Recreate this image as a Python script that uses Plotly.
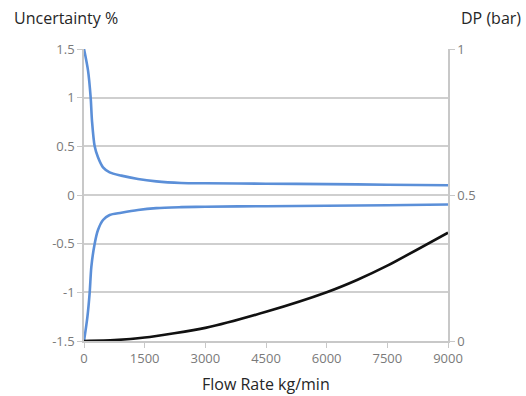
import plotly.graph_objects as go

# Upper uncertainty band (%)
flow_upper = [0, 99, 165, 198, 264, 346, 470, 634, 922, 1335, 1788, 2400, 3000, 4500, 6000, 7500, 9000]
unc_upper = [1.5, 1.28, 1.0, 0.76, 0.5, 0.387, 0.284, 0.233, 0.199, 0.164, 0.14, 0.124, 0.12, 0.116, 0.112, 0.106, 0.1]

# Lower uncertainty band (%)
flow_lower = [0, 82, 141, 181, 264, 346, 470, 634, 922, 1335, 1788, 2400, 3000, 4500, 6000, 7500, 9000]
unc_lower = [-1.5, -1.26, -1.0, -0.74, -0.5, -0.36, -0.257, -0.205, -0.182, -0.154, -0.135, -0.125, -0.12, -0.115, -0.11, -0.105, -0.098]

# Differential pressure (bar)
flow_dp = [0, 750, 1500, 3000, 4500, 6000, 6750, 7500, 9000]
dp_bar = [0, 0.003, 0.012, 0.045, 0.1, 0.167, 0.209, 0.258, 0.371]

left_ticks = [1.5, 1, 0.5, 0, -0.5, -1, -1.5]
left_ticktext = ["1.5", "1", "0.5", "0", "-0.5", "-1", "-1.5"]
right_ticks = [0, 0.5, 1]
right_ticktext = ["0", "0.5", "1"]
x_ticks = [0, 1500, 3000, 4500, 6000, 7500, 9000]
x_ticktext = ["0", "1500", "3000", "4500", "6000", "7500", "9000"]

BLUE = "#5b8fd8"
FONT = "Open Sans"

fig = go.Figure()
fig.add_trace(go.Scatter(x=flow_upper, y=unc_upper, mode="lines",
                         line=dict(color=BLUE, width=2.6, shape="spline", smoothing=0.8),
                         showlegend=False))
fig.add_trace(go.Scatter(x=flow_lower, y=unc_lower, mode="lines",
                         line=dict(color=BLUE, width=2.6, shape="spline", smoothing=0.8),
                         showlegend=False))
fig.add_trace(go.Scatter(x=flow_dp, y=dp_bar, mode="lines", yaxis="y2",
                         line=dict(color="#111111", width=2.6, shape="spline", smoothing=0.6),
                         showlegend=False))

axis_font = dict(family=FONT, size=13, color="#7a7a7a")
fig.update_layout(
    width=526, height=396,
    margin=dict(l=84, r=78, t=49, b=55),
    paper_bgcolor="white", plot_bgcolor="white",
    font=dict(family=FONT),
    xaxis=dict(range=[0, 9000], tickvals=x_ticks, ticktext=x_ticktext,
               showgrid=False, zeroline=False, showline=True, linecolor="#c8c8c8", linewidth=1.5,
               ticks="outside", ticklen=5, tickcolor="#c8c8c8", tickfont=axis_font),
    yaxis=dict(range=[-1.5, 1.5], tickvals=left_ticks, ticktext=left_ticktext,
               showgrid=True, gridcolor="#cfcfcf", gridwidth=1.5, zeroline=False,
               showline=True, linecolor="#c8c8c8", linewidth=1.5,
               ticks="outside", ticklen=5, tickcolor="#c8c8c8", tickfont=axis_font),
    yaxis2=dict(range=[0, 1], tickvals=right_ticks, ticktext=right_ticktext,
                overlaying="y", side="right", showgrid=False, zeroline=False,
                showline=True, linecolor="#c8c8c8", linewidth=1.5,
                ticks="outside", ticklen=5, tickcolor="#c8c8c8", tickfont=axis_font),
)

# axis titles placed at pixel positions, converted to paper coordinates
pw, ph = 526 - 84 - 78, 396 - 49 - 55
titles = [("Uncertainty %", 12, 18, "left"), ("DP (bar)", 459, 18, "left"),
          ("Flow Rate kg/min", 266, 384, "center")]
fig.layout.annotations = [
    dict(text=t, showarrow=False, xref="paper", yref="paper",
         x=(px - 84) / pw, y=1 - (py - 49) / ph, xanchor=anc, yanchor="middle",
         font=dict(family=FONT, size=16, color="#262626"))
    for t, px, py, anc in titles
]

fig.write_html("out.html")
